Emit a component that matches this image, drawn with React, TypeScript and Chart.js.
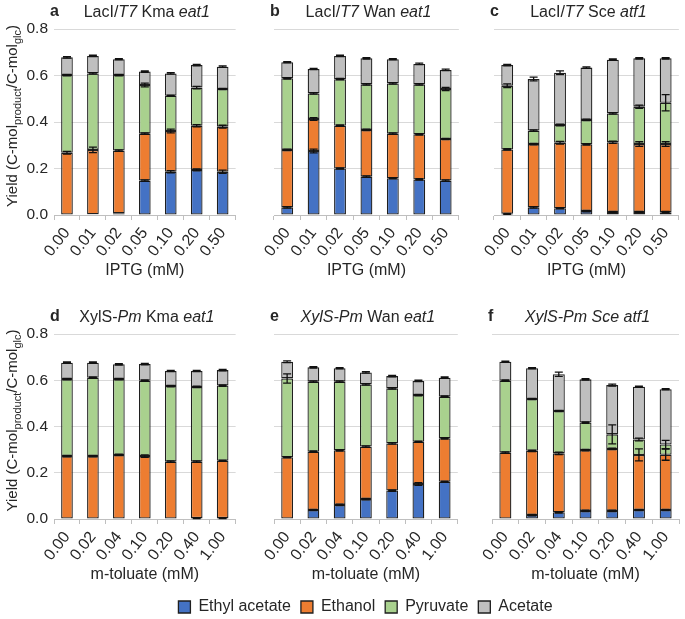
import React, { useEffect, useRef } from 'react';
import { Chart, registerables } from 'chart.js';
Chart.register(...registerables);

// ---------- data ----------
const IPTG_LABELS = ['0.00', '0.01', '0.02', '0.05', '0.10', '0.20', '0.50'];
const TOLUATE_LABELS = ['0.00', '0.02', '0.04', '0.10', '0.20', '0.40', '1.00'];
const SERIES_NAMES = ['Ethyl acetate', 'Ethanol', 'Pyruvate', 'Acetate'];
const Y_TICKS = [0, 0.2, 0.4, 0.6, 0.8];

// a: LacI/T7 Kma eat1
const aEthylAcetate = [0, 0.003, 0.007, 0.148, 0.186, 0.194, 0.186];
const aEthanol = [0.268, 0.277, 0.27, 0.202, 0.175, 0.19, 0.194];
const aPyruvate = [0.334, 0.329, 0.325, 0.209, 0.152, 0.164, 0.162];
const aAcetate = [0.076, 0.075, 0.068, 0.058, 0.096, 0.097, 0.096];
const aErrEthylAcetate = [0, 0, 0, 0.003, 0.005, 0.004, 0.007];
const aErrEthanol = [0.006, 0.012, 0.003, 0.003, 0.008, 0.005, 0.006];
const aErrPyruvate = [0.003, 0.003, 0.003, 0.008, 0.003, 0.005, 0.003];
const aErrAcetate = [0.003, 0.003, 0.003, 0.003, 0.003, 0.003, 0.003];

// b: LacI/T7 Wan eat1
const bEthylAcetate = [0.033, 0.275, 0.2, 0.165, 0.158, 0.153, 0.148];
const bEthanol = [0.247, 0.138, 0.184, 0.201, 0.192, 0.194, 0.179];
const bPyruvate = [0.308, 0.11, 0.2, 0.196, 0.216, 0.215, 0.215];
const bAcetate = [0.069, 0.105, 0.1, 0.112, 0.104, 0.088, 0.082];
const bErrEthylAcetate = [0.003, 0.008, 0.003, 0.003, 0.003, 0.003, 0.003];
const bErrEthanol = [0.003, 0.006, 0.003, 0.003, 0.003, 0.003, 0.003];
const bErrPyruvate = [0.003, 0.003, 0.003, 0.003, 0.003, 0.003, 0.007];
const bErrAcetate = [0.003, 0.003, 0.003, 0.003, 0.003, 0.003, 0.003];

// c: LacI/T7 Sce atf1
const cEthylAcetate = [0.005, 0.033, 0.029, 0.017, 0.013, 0.013, 0.012];
const cEthanol = [0.277, 0.272, 0.282, 0.287, 0.3, 0.292, 0.293];
const cPyruvate = [0.274, 0.058, 0.076, 0.105, 0.124, 0.161, 0.178];
const cAcetate = [0.089, 0.222, 0.225, 0.225, 0.231, 0.208, 0.191];
const cErrEthylAcetate = [0.002, 0.003, 0.003, 0.003, 0.003, 0.003, 0.003];
const cErrEthanol = [0.003, 0.003, 0.006, 0.003, 0.005, 0.01, 0.01];
const cErrPyruvate = [0.008, 0.003, 0.004, 0.003, 0.003, 0.007, 0.035];
const cErrAcetate = [0.003, 0.008, 0.008, 0.003, 0.003, 0.003, 0.003];

// d: XylS-Pm Kma eat1
const dEthylAcetate = [0, 0, 0, 0, 0, 0.004, 0.004];
const dEthanol = [0.272, 0.272, 0.277, 0.272, 0.248, 0.244, 0.248];
const dPyruvate = [0.333, 0.339, 0.328, 0.326, 0.327, 0.323, 0.325];
const dAcetate = [0.071, 0.065, 0.064, 0.072, 0.065, 0.069, 0.067];
const dErrEthylAcetate = [0, 0, 0, 0, 0, 0.002, 0.002];
const dErrEthanol = [0.003, 0.003, 0.003, 0.005, 0.003, 0.003, 0.003];
const dErrPyruvate = [0.003, 0.003, 0.003, 0.003, 0.003, 0.003, 0.003];
const dErrAcetate = [0.003, 0.003, 0.003, 0.003, 0.003, 0.003, 0.003];

// e: XylS-Pm Wan eat1
const eEthylAcetate = [0, 0.039, 0.061, 0.086, 0.123, 0.151, 0.161];
const eEthanol = [0.267, 0.252, 0.236, 0.227, 0.204, 0.183, 0.188];
const ePyruvate = [0.341, 0.303, 0.297, 0.269, 0.238, 0.202, 0.18];
const eAcetate = [0.072, 0.062, 0.058, 0.052, 0.053, 0.061, 0.082];
const eErrEthylAcetate = [0, 0.003, 0.003, 0.003, 0.003, 0.006, 0.003];
const eErrEthanol = [0.003, 0.003, 0.003, 0.003, 0.003, 0.003, 0.003];
const eErrPyruvate = [0.02, 0.003, 0.003, 0.003, 0.003, 0.003, 0.003];
const eErrAcetate = [0.004, 0.003, 0.003, 0.003, 0.003, 0.003, 0.003];

// f: XylS-Pm Sce atf1
const fEthylAcetate = [0, 0.017, 0.029, 0.035, 0.035, 0.039, 0.039];
const fEthanol = [0.287, 0.278, 0.255, 0.263, 0.268, 0.238, 0.239];
const fPyruvate = [0.311, 0.224, 0.183, 0.119, 0.063, 0.067, 0.044];
const fAcetate = [0.082, 0.133, 0.159, 0.187, 0.213, 0.228, 0.239];
const fErrEthylAcetate = [0, 0.003, 0.003, 0.003, 0.003, 0.003, 0.003];
const fErrEthanol = [0.003, 0.003, 0.005, 0.003, 0.003, 0.026, 0.024];
const fErrPyruvate = [0.003, 0.003, 0.003, 0.003, 0.041, 0.006, 0.018];
const fErrAcetate = [0.003, 0.003, 0.009, 0.003, 0.004, 0.003, 0.003];

// ---------- styles ----------
const FONT = "'Liberation Sans', Arial, Helvetica, sans-serif";
const TEXT = '#262626';
const FILLS = ['#4472C4', '#ED7D31', '#A9D18E', '#BFBFBF'];
const EDGE = '#1f1f1f';
const GRID = '#D9D9D9';
const AXIS = '#BFBFBF';

type Seg = { t: string; s?: 'b' | 'i' | 'sub' };

function fontFor(s: Seg['s'], size: number) {
  if (s === 'b') return `bold ${size}px ${FONT}`;
  if (s === 'i') return `italic ${size}px ${FONT}`;
  if (s === 'sub') return `${Math.round(size * 0.7)}px ${FONT}`;
  return `${size}px ${FONT}`;
}

function drawRich(ctx: CanvasRenderingContext2D, segs: Seg[], x: number, y: number, size: number, align: 'center' | 'left') {
  let total = 0;
  const widths = segs.map((g) => {
    ctx.font = fontFor(g.s, size);
    const w = ctx.measureText(g.t).width;
    total += w;
    return w;
  });
  let cx = align === 'center' ? x - total / 2 : x;
  ctx.textBaseline = 'middle';
  ctx.textAlign = 'left';
  ctx.fillStyle = TEXT;
  segs.forEach((g, i) => {
    ctx.font = fontFor(g.s, size);
    ctx.fillText(g.t, cx, g.s === 'sub' ? y + size * 0.3 : y);
    cx += widths[i];
  });
}

const Y_TITLE: Seg[] = [
  { t: 'Yield (C-mol' },
  { t: 'product', s: 'sub' },
  { t: '/C-mol' },
  { t: 'glc', s: 'sub' },
  { t: ')' },
];

type Panel = {
  letter: string;
  title: Seg[];
  labels: string[];
  values: number[][];
  errors: number[][];
  xTitle: string;
  showY: boolean;
  L: number; R: number; T: number; B: number;
};

const PANELS: Panel[] = [
  {
    letter: 'a', title: [{ t: 'LacI/' }, { t: 'T7', s: 'i' }, { t: ' Kma ' }, { t: 'eat1', s: 'i' }],
    labels: IPTG_LABELS, values: [aEthylAcetate, aEthanol, aPyruvate, aAcetate],
    errors: [aErrEthylAcetate, aErrEthanol, aErrPyruvate, aErrAcetate],
    xTitle: 'IPTG (mM)', showY: true, L: 54, R: 239, T: 29, B: 215,
  },
  {
    letter: 'b', title: [{ t: 'LacI/' }, { t: 'T7', s: 'i' }, { t: ' Wan ' }, { t: 'eat1', s: 'i' }],
    labels: IPTG_LABELS, values: [bEthylAcetate, bEthanol, bPyruvate, bAcetate],
    errors: [bErrEthylAcetate, bErrEthanol, bErrPyruvate, bErrAcetate],
    xTitle: 'IPTG (mM)', showY: false, L: 274, R: 462, T: 29, B: 215,
  },
  {
    letter: 'c', title: [{ t: 'LacI/' }, { t: 'T7', s: 'i' }, { t: ' Sce ' }, { t: 'atf1', s: 'i' }],
    labels: IPTG_LABELS, values: [cEthylAcetate, cEthanol, cPyruvate, cAcetate],
    errors: [cErrEthylAcetate, cErrEthanol, cErrPyruvate, cErrAcetate],
    xTitle: 'IPTG (mM)', showY: false, L: 494, R: 682, T: 29, B: 215,
  },
  {
    letter: 'd', title: [{ t: 'XylS-' }, { t: 'Pm', s: 'i' }, { t: ' Kma ' }, { t: 'eat1', s: 'i' }],
    labels: TOLUATE_LABELS, values: [dEthylAcetate, dEthanol, dPyruvate, dAcetate],
    errors: [dErrEthylAcetate, dErrEthanol, dErrPyruvate, dErrAcetate],
    xTitle: 'm-toluate (mM)', showY: true, L: 54, R: 239, T: 334, B: 519,
  },
  {
    letter: 'e', title: [{ t: 'XylS-Pm', s: 'i' }, { t: ' Wan ' }, { t: 'eat1', s: 'i' }],
    labels: TOLUATE_LABELS, values: [eEthylAcetate, eEthanol, ePyruvate, eAcetate],
    errors: [eErrEthylAcetate, eErrEthanol, eErrPyruvate, eErrAcetate],
    xTitle: 'm-toluate (mM)', showY: false, L: 274, R: 461, T: 334, B: 519,
  },
  {
    letter: 'f', title: [{ t: 'XylS-Pm Sce atf1', s: 'i' }],
    labels: TOLUATE_LABELS, values: [fEthylAcetate, fEthanol, fPyruvate, fAcetate],
    errors: [fErrEthylAcetate, fErrEthanol, fErrPyruvate, fErrAcetate],
    xTitle: 'm-toluate (mM)', showY: false, L: 492, R: 682, T: 334, B: 519,
  },
];

const PAD_TOP = 29;
const PAD_RIGHT = 3;
const X_AXIS_H = 75;

function geometry(p: Panel) {
  const yW = p.showY ? p.L : 40;
  return {
    left: p.L - yW,
    top: p.T - PAD_TOP,
    width: yW + (p.R - p.L) + PAD_RIGHT,
    height: PAD_TOP + (p.B - p.T) + X_AXIS_H,
    yW,
  };
}

function PanelChart({ p }: { p: Panel }) {
  const ref = useRef<HTMLCanvasElement>(null);
  const g = geometry(p);
  useEffect(() => {
    if (!ref.current) return;
    const decor = {
      id: 'decor',
      afterDatasetsDraw(chart: any) {
        const ctx = chart.ctx as CanvasRenderingContext2D;
        const ys = chart.scales.y;
        ctx.save();
        ctx.strokeStyle = '#111111';
        ctx.lineWidth = 1.3;
        p.errors.forEach((errs, k) => {
          const meta = chart.getDatasetMeta(k);
          errs.forEach((e, j) => {
            if (!e || !p.values[k][j]) return;
            const el = meta.data[j];
            if (!el) return;
            const { x, y } = el.getProps(['x', 'y'], true);
            const d = ys.getPixelForValue(0) - ys.getPixelForValue(e);
            const cap = 4;
            ctx.beginPath();
            ctx.moveTo(x, y - d);
            ctx.lineTo(x, y + d);
            ctx.moveTo(x - cap, y - d);
            ctx.lineTo(x + cap, y - d);
            ctx.moveTo(x - cap, y + d);
            ctx.lineTo(x + cap, y + d);
            ctx.stroke();
          });
        });
        ctx.restore();
      },
      afterDraw(chart: any) {
        const ctx = chart.ctx as CanvasRenderingContext2D;
        const a = chart.chartArea;
        ctx.save();
        drawRich(ctx, [{ t: p.letter, s: 'b' }], a.left - 4, a.top - 17, 16, 'left');
        drawRich(ctx, p.title, (a.left + a.right) / 2 + 2, a.top - 16, 16, 'center');
        if (p.showY) {
          ctx.translate(13, (a.top + a.bottom) / 2 - 6);
          ctx.rotate(-Math.PI / 2);
          drawRich(ctx, Y_TITLE, 0, 0, 15, 'center');
        }
        ctx.restore();
      },
    };
    const chart = new Chart(ref.current, {
      type: 'bar',
      data: {
        labels: p.labels,
        datasets: p.values.map((v, k) => ({
          label: SERIES_NAMES[k],
          data: v,
          backgroundColor: FILLS[k],
          borderColor: EDGE,
          borderWidth: 1.3,
          borderSkipped: false,
          barPercentage: 0.45,
          categoryPercentage: 1,
        })),
      },
      options: {
        responsive: false,
        animation: false,
        devicePixelRatio: 1,
        layout: { padding: { top: PAD_TOP, right: PAD_RIGHT, left: 0, bottom: 0 } },
        plugins: { legend: { display: false }, tooltip: { enabled: false } },
        scales: {
          x: {
            stacked: true,
            grid: { offset: true, drawOnChartArea: false, drawTicks: true, tickLength: 5, color: AXIS },
            border: { display: true, color: AXIS },
            ticks: {
              autoSkip: false,
              minRotation: 52,
              maxRotation: 52,
              padding: 4,
              color: TEXT,
              font: { family: FONT, size: 16 },
            },
            title: {
              display: true,
              text: p.xTitle,
              color: TEXT,
              font: { family: FONT, size: 16 },
              padding: { top: 0, bottom: 10 },
            },
            afterFit(s: any) { s.height = X_AXIS_H; },
          },
          y: {
            stacked: true,
            min: 0,
            max: 0.8,
            afterBuildTicks(s: any) { s.ticks = Y_TICKS.map((v) => ({ value: v })); },
            grid: { color: GRID, drawTicks: false },
            border: { display: false },
            ticks: {
              display: p.showY,
              padding: 6,
              color: TEXT,
              font: { family: FONT, size: 15.5 },
              callback: (v: any) => Number(v).toFixed(1),
            },
            afterFit(s: any) { s.width = g.yW; },
          },
        },
      },
      plugins: [decor],
    } as any);
    return () => chart.destroy();
  }, []);
  return (
    <canvas
      ref={ref}
      width={g.width}
      height={g.height}
      style={{ position: 'absolute', left: g.left, top: g.top, width: g.width, height: g.height }}
    />
  );
}

function LegendChart() {
  const ref = useRef<HTMLCanvasElement>(null);
  useEffect(() => {
    if (!ref.current) return;
    const chart = new Chart(ref.current, {
      type: 'bar',
      data: {
        labels: [],
        datasets: SERIES_NAMES.map((n, k) => ({
          label: n,
          data: [],
          backgroundColor: FILLS[k],
          borderColor: EDGE,
          borderWidth: 1.3,
        })),
      },
      options: {
        responsive: false,
        animation: false,
        devicePixelRatio: 1,
        plugins: {
          tooltip: { enabled: false },
          legend: {
            display: true,
            position: 'top',
            align: 'center',
            labels: {
              boxWidth: 12,
              boxHeight: 12,
              padding: 10,
              color: TEXT,
              font: { family: FONT, size: 16 },
            },
          },
        },
        scales: { x: { display: false }, y: { display: false } },
      },
    } as any);
    return () => chart.destroy();
  }, []);
  return (
    <canvas
      ref={ref}
      width={639}
      height={90}
      style={{ position: 'absolute', left: 46, top: 589, width: 639, height: 90 }}
    />
  );
}

export default function App() {
  return (
    <div style={{ position: 'absolute', left: 0, top: 0, width: 685, height: 619, background: '#ffffff', overflow: 'hidden' }}>
      {PANELS.map((p) => (
        <PanelChart key={p.letter} p={p} />
      ))}
      <LegendChart />
    </div>
  );
}
